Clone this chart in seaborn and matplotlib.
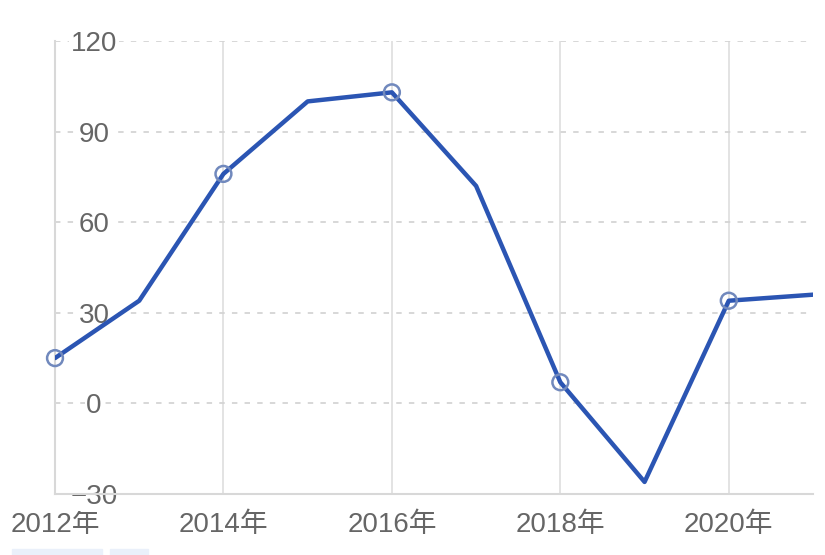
import matplotlib
matplotlib.use("Agg")
import matplotlib.pyplot as plt
import matplotlib.transforms as mtransforms
import pandas as pd
import seaborn as sns

years = [2012, 2013, 2014, 2015, 2016, 2017, 2018, 2019, 2020, 2021]
values = [15, 34, 76, 100, 103, 72, 7, -26, 34, 36]
marker_years = [2012, 2014, 2016, 2018, 2020]
x_ticks = [2012, 2014, 2016, 2018, 2020]
x_labels = ["2012年", "2014年", "2016年", "2018年", "2020年"]
y_ticks = [-30, 0, 30, 60, 90, 120]
y_labels = ["\u221230", "0", "30", "60", "90", "120"]

sns.set_style("white")
plt.rcParams['font.family'] = ['Liberation Sans', 'Noto Sans CJK SC', 'DejaVu Sans']

df = pd.DataFrame({"year": years, "value": values})
dm = df[df["year"].isin(marker_years)]

fig = plt.figure(figsize=(8.25, 5.55), dpi=100)
ax = fig.add_axes([55/825, 61/555, 758/825, 453/555])

grey_txt = "#666666"
# grid
for x in x_ticks[1:]:
    ax.axvline(x, color="#e0e0e0", lw=1.3, zorder=0)
for y in y_ticks[1:]:
    ax.axhline(y, color="#d4d4d4", lw=1.3, ls=(0, (3, 4)), zorder=0)

sns.lineplot(data=df, x="year", y="value", ax=ax, color="#2b55b3", lw=3.2,
             zorder=3, legend=False)
sns.scatterplot(data=dm, x="year", y="value", ax=ax, s=130, marker="o",
                facecolor="none", edgecolor="#7189bd", linewidth=1.8, zorder=4,
                legend=False)
for c in ax.collections:
    c.set_clip_on(False)

ax.set_xlim(2012, 2021)
ax.set_ylim(-30, 120)
ax.set_xticks(x_ticks)
ax.set_xticklabels(x_labels, fontsize=20, color=grey_txt)
ax.set_yticks([])
ax.tick_params(axis="x", length=0, pad=13)
ax.set_xlabel("")
ax.set_ylabel("")

for s in ["top", "right"]:
    ax.spines[s].set_visible(False)
for s in ["left", "bottom"]:
    ax.spines[s].set_color("#d8d8d8")
    ax.spines[s].set_linewidth(1.5)

trans = mtransforms.blended_transform_factory(ax.transAxes, ax.transData)
for y, lab in zip(y_ticks, y_labels):
    ax.text(39/758, y, lab, transform=trans, ha="center", va="center_baseline",
            fontsize=20, color=grey_txt, zorder=2,
            bbox=dict(facecolor="white", edgecolor="none", pad=1))

# faint strips cut off at the bottom of the screenshot
fig.patches.append(plt.Rectangle((12/825, 0), 90/825, 6/555, transform=fig.transFigure,
                                 color="#eaf0fa", zorder=0))
fig.patches.append(plt.Rectangle((110/825, 0), 38/825, 6/555, transform=fig.transFigure,
                                 color="#eaf0fa", zorder=0))

fig.savefig("out.png", dpi=100)
